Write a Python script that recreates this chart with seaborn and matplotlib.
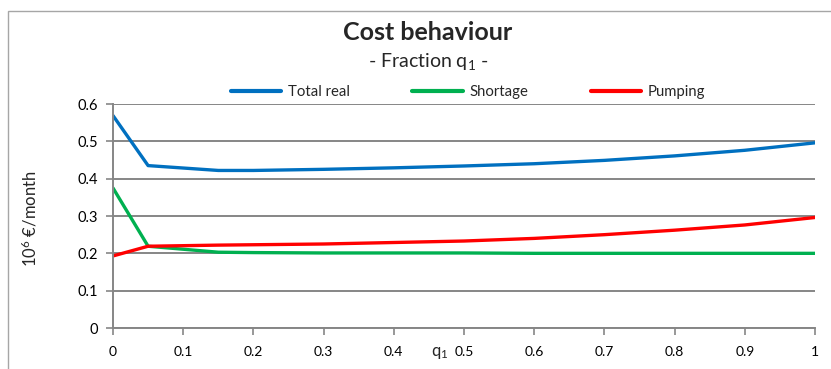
import numpy as np
import pandas as pd
import seaborn as sns
import matplotlib.pyplot as plt
from matplotlib.patches import Rectangle

# fraction q1 and the three cost series (10^6 EUR/month)
q1 = [0.0, 0.05, 0.15, 0.2, 0.3, 0.4, 0.5, 0.6, 0.7, 0.8, 0.9, 1.0]
total_real = [0.569, 0.435, 0.422, 0.422, 0.425, 0.429, 0.434, 0.440, 0.449, 0.461, 0.476, 0.496]
shortage = [0.375, 0.219, 0.203, 0.202, 0.201, 0.201, 0.201, 0.200, 0.200, 0.200, 0.200, 0.200]
pumping = [0.193, 0.219, 0.222, 0.223, 0.225, 0.229, 0.233, 0.240, 0.250, 0.262, 0.276, 0.296]

series_names = ["Total real", "Shortage", "Pumping"]
colors = ["#0070C0", "#00B050", "#FF0000"]
yticks = [0, 0.1, 0.2, 0.3, 0.4, 0.5, 0.6]
xticks = [0, 0.1, 0.2, 0.3, 0.4, 0.5, 0.6, 0.7, 0.8, 0.9, 1]

df = pd.DataFrame({"q1": q1, "Total real": total_real, "Shortage": shortage, "Pumping": pumping})
df = df.melt(id_vars="q1", var_name="serie", value_name="cost")

sns.set_style("white")
plt.rcParams['font.family'] = ['Lato', 'DejaVu Sans']
plt.rcParams['mathtext.fontset'] = 'custom'
plt.rcParams['mathtext.rm'] = 'Lato'
plt.rcParams['mathtext.it'] = 'Lato:italic'
plt.rcParams['mathtext.bf'] = 'Lato:bold'
plt.rcParams['mathtext.default'] = 'rm'

fig = plt.figure(figsize=(8.31, 3.69), dpi=100)
ax = fig.add_axes([113 / 831, 1 - 328 / 369, 702 / 831, 224 / 369])

# outer chart border
fig.patches.append(Rectangle((8 / 831, -0.1), 1.2, 1.1 - 11 / 369, transform=fig.transFigure,
                             fill=False, edgecolor="#A6A6A6", linewidth=1.0))

sns.lineplot(data=df, x="q1", y="cost", hue="serie", hue_order=series_names,
             palette=colors, linewidth=2.4, ax=ax, legend=False)

ax.set_xlim(0, 1)
ax.set_ylim(0, 0.6)
ax.set_xticks(xticks)
ax.set_xticklabels([f"{t:g}" for t in xticks])
ax.set_yticks(yticks)
ax.set_yticklabels([f"{t:g}" for t in yticks])
ax.yaxis.grid(True, color="#868686", linewidth=1.4)
ax.set_axisbelow(True)
for s in ["top", "right"]:
    ax.spines[s].set_visible(False)
for s in ["left", "bottom"]:
    ax.spines[s].set_color("#868686")
    ax.spines[s].set_linewidth(1.4)
ax.tick_params(axis="both", which="both", direction="out", length=5, width=1.2,
               color="#868686", labelcolor="#000000")
ax.tick_params(axis="x", pad=8, labelsize=10)
ax.tick_params(axis="y", pad=6, labelsize=10.5)
ax.tick_params(bottom=True, left=True)

ax.set_xlabel("q$_1$", fontsize=12)
ax.xaxis.set_label_coords((440 - 113) / 702, -0.075)
ax.set_ylabel("10$^6$ €/month", fontsize=12)
ax.yaxis.set_label_coords(-0.105, 0.49)

fig.text(428 / 831, 1 - 32 / 369, "Cost behaviour", ha="center", va="center",
         fontsize=18, fontweight="bold")
fig.text(428 / 831, 1 - 62 / 369, "- Fraction q$_1$ -", ha="center", va="center", fontsize=14)

handles = [plt.Line2D([], [], color=c, linewidth=3) for c in colors]
fig.legend(handles, series_names, loc="center", bbox_to_anchor=(468 / 831, 1 - 92 / 369),
           ncol=3, frameon=False, fontsize=10.7, handlelength=3.4, handletextpad=0.45,
           columnspacing=4.2)

fig.savefig("out.png", dpi=100)
